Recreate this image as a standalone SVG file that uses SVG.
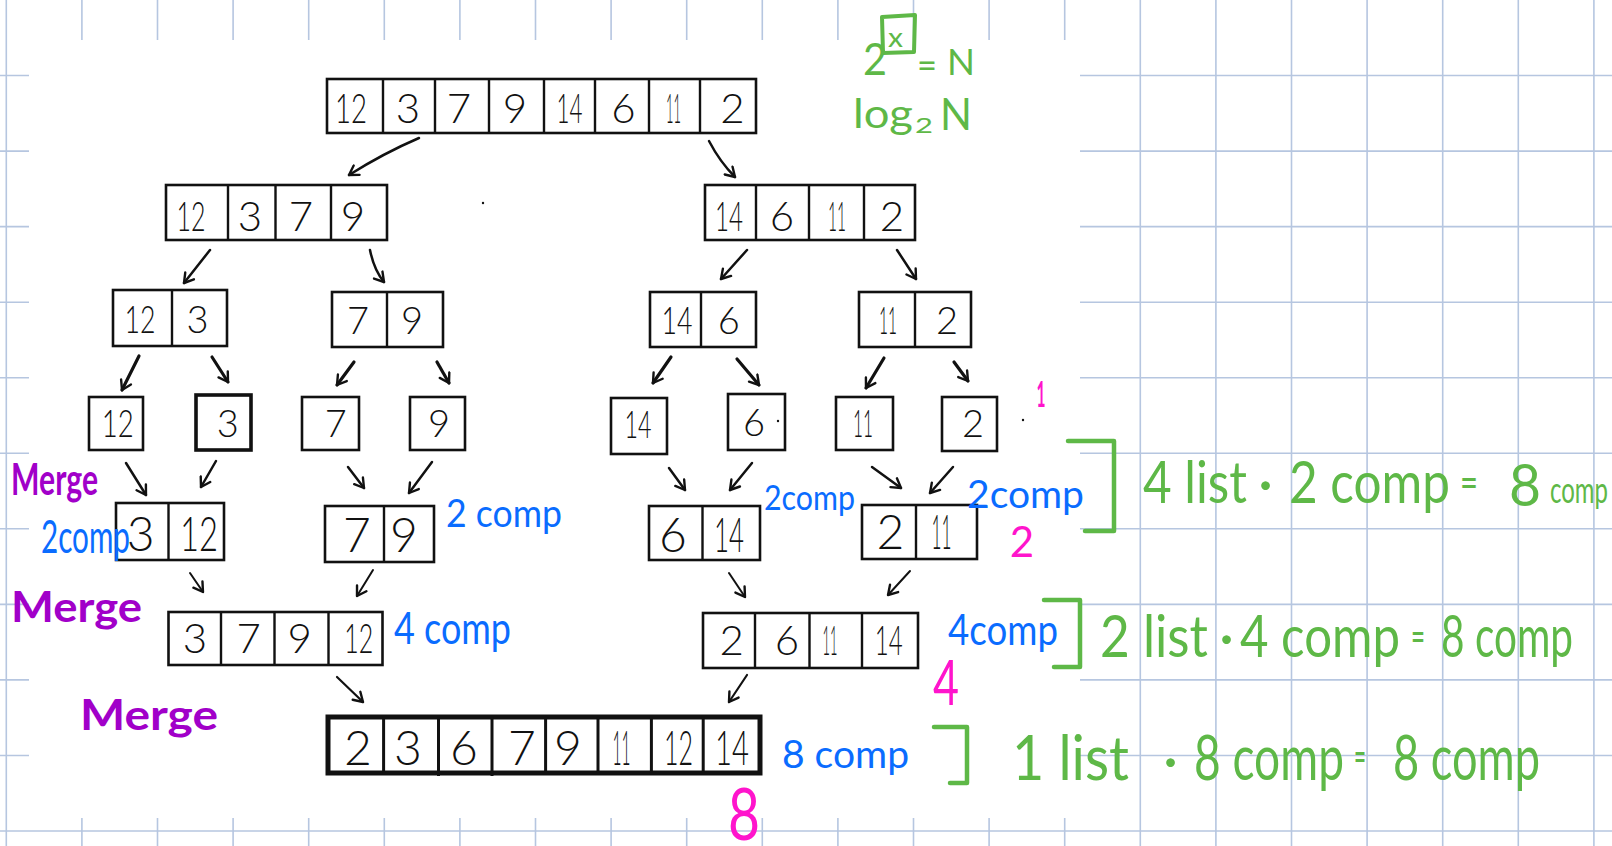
<svg xmlns="http://www.w3.org/2000/svg" width="1612" height="846" viewBox="0 0 1612 846">
  <defs>
    <marker id="ah" viewBox="0 0 14 14" refX="11" refY="7" markerWidth="14" markerHeight="14" markerUnits="userSpaceOnUse" orient="auto">
      <path d="M2,1.5 L11,7 L2,12.5" fill="none" stroke="#111" stroke-width="2.4" stroke-linecap="round" stroke-linejoin="round"/>
    </marker>
    <style>
      .grid { stroke: #b6c6e0; stroke-width: 1.6; fill: none; }
      .box { fill: none; stroke: #111; stroke-width: 2.6; }
      .div { stroke: #111; stroke-width: 2.4; }
      .d { font-family: Lato, "Liberation Sans", sans-serif; font-weight: 300; fill: #111; text-anchor: middle; }
      .d42 { font-size: 42px; }
      .d38 { font-size: 38px; }
      .d48 { font-size: 48px; }
      .arr { fill: none; stroke: #111; stroke-width: 2.5; stroke-linecap: round; marker-end: url(#ah); }
      .hw { font-family: Lato, "Liberation Sans", sans-serif; }
      .purple { fill: #a100c9; font-weight: 700; }
      .blue { fill: #0a6cff; }
      .green { fill: #5eb847; }
      .pink { fill: #ff14cc; text-anchor: middle; }
      .bracket { fill: none; stroke: #5eb847; stroke-width: 4.5; stroke-linecap: round; stroke-linejoin: round; }
    </style>
  </defs>

  <!-- paper background with grid -->
  <rect x="0" y="0" width="1612" height="846" fill="#ffffff"/>
  <path class="grid" d="M6.3,0V846 M81.9,0V846 M157.5,0V846 M233.1,0V846 M308.7,0V846 M384.3,0V846 M459.9,0V846 M535.5,0V846 M611.1,0V846 M686.7,0V846 M762.3,0V846 M837.9,0V846 M913.5,0V846 M989.1,0V846 M1064.7,0V846 M1140.3,0V846 M1215.9,0V846 M1291.5,0V846 M1367.1,0V846 M1442.7,0V846 M1518.3,0V846 M1593.9,0V846 M0,75.5H1612 M0,151.1H1612 M0,226.6H1612 M0,302.2H1612 M0,377.7H1612 M0,453.3H1612 M0,528.8H1612 M0,604.4H1612 M0,679.9H1612 M0,755.5H1612 M0,831H1612"/>
  <!-- white drawing sheet -->
  <rect x="29" y="40" width="1051" height="778" fill="#ffffff"/>

  <!-- level 1 -->
  <g id="list-root">
    <rect class="box" x="327" y="79" width="429" height="54"/>
    <path class="div" d="M383,79V133 M435,79V133 M489,79V133 M544,79V133 M595,79V133 M649,79V133 M700,79V133"/>
    <g class="d d42">
      <text x="351" y="123" textLength="32" lengthAdjust="spacingAndGlyphs">12</text>
      <text x="408" y="123">3</text>
      <text x="459" y="123">7</text>
      <text x="515" y="123">9</text>
      <text x="569.5" y="123" textLength="26" lengthAdjust="spacingAndGlyphs">14</text>
      <text x="623.5" y="123">6</text>
      <text x="673.5" y="123" textLength="15" lengthAdjust="spacingAndGlyphs">11</text>
      <text x="732.5" y="123">2</text>
    </g>
  </g>

  <!-- level 2 -->
  <g id="list-l2a">
    <rect class="box" x="166" y="185" width="221" height="55"/>
    <path class="div" d="M228,185V240 M275.5,185V240 M331,185V240"/>
    <g class="d d42">
      <text x="191" y="231" textLength="29" lengthAdjust="spacingAndGlyphs">12</text>
      <text x="250" y="231">3</text>
      <text x="301" y="231">7</text>
      <text x="353" y="231">9</text>
    </g>
  </g>
  <g id="list-l2b">
    <rect class="box" x="705" y="185" width="210" height="55"/>
    <path class="div" d="M756,185V240 M809,185V240 M864,185V240"/>
    <g class="d d42">
      <text x="729" y="231" textLength="28" lengthAdjust="spacingAndGlyphs">14</text>
      <text x="782" y="231">6</text>
      <text x="837" y="231" textLength="18" lengthAdjust="spacingAndGlyphs">11</text>
      <text x="892" y="231">2</text>
    </g>
  </g>

  <!-- level 3 -->
  <g id="list-l3a">
    <rect class="box" x="113" y="290" width="114" height="56"/>
    <path class="div" d="M172,290V346"/>
    <g class="d d38">
      <text x="140" y="333" textLength="31" lengthAdjust="spacingAndGlyphs">12</text>
      <text x="197.6" y="333">3</text>
    </g>
  </g>
  <g id="list-l3b">
    <rect class="box" x="332" y="292" width="111" height="55"/>
    <path class="div" d="M387,292V347"/>
    <g class="d d38">
      <text x="358" y="334">7</text>
      <text x="412" y="334">9</text>
    </g>
  </g>
  <g id="list-l3c">
    <rect class="box" x="650" y="292" width="106" height="55"/>
    <path class="div" d="M701,292V347"/>
    <g class="d d38">
      <text x="677" y="334" textLength="31" lengthAdjust="spacingAndGlyphs">14</text>
      <text x="728.7" y="334">6</text>
    </g>
  </g>
  <g id="list-l3d">
    <rect class="box" x="859" y="292" width="112" height="55"/>
    <path class="div" d="M915,292V347"/>
    <g class="d d38">
      <text x="888" y="334" textLength="18" lengthAdjust="spacingAndGlyphs">11</text>
      <text x="947" y="334">2</text>
    </g>
  </g>

  <!-- level 4: single elements -->
  <g id="one-12"><rect class="box" x="89" y="397" width="54" height="53"/><text class="d d38" x="117.7" y="437" textLength="32" lengthAdjust="spacingAndGlyphs">12</text></g>
  <g id="one-3"><rect class="box" x="196" y="395" width="55" height="55" style="stroke-width:3.6"/><text class="d d38" x="227.7" y="437">3</text></g>
  <g id="one-7"><rect class="box" x="302" y="397" width="57" height="53"/><text class="d d38" x="335.7" y="437">7</text></g>
  <g id="one-9"><rect class="box" x="410" y="397" width="55" height="53"/><text class="d d38" x="439" y="437">9</text></g>
  <g id="one-14"><rect class="box" x="611" y="398" width="56" height="56"/><text class="d d38" x="638" y="438" textLength="27" lengthAdjust="spacingAndGlyphs">14</text></g>
  <g id="one-6"><rect class="box" x="728" y="394" width="57" height="56"/><text class="d d38" x="754" y="436">6</text></g>
  <g id="one-11"><rect class="box" x="836" y="397" width="57" height="53"/><text class="d d38" x="863" y="437" textLength="20" lengthAdjust="spacingAndGlyphs">11</text></g>
  <g id="one-2"><rect class="box" x="942" y="397" width="55" height="54"/><text class="d d38" x="973" y="437">2</text></g>

  <!-- level 5: merged pairs -->
  <g id="pair-3-12">
    <rect class="box" x="116" y="503" width="108" height="57"/>
    <path class="div" d="M168.5,503V560"/>
    <g class="d d48">
      <text x="140.7" y="551">3</text>
      <text x="199" y="551" textLength="38" lengthAdjust="spacingAndGlyphs">12</text>
    </g>
  </g>
  <g id="pair-7-9">
    <rect class="box" x="325" y="506" width="109" height="56"/>
    <path class="div" d="M384,506V562"/>
    <g class="d d48">
      <text x="356.8" y="552">7</text>
      <text x="403.8" y="552">9</text>
    </g>
  </g>
  <g id="pair-6-14">
    <rect class="box" x="649" y="506" width="111" height="54"/>
    <path class="div" d="M702.5,506V560"/>
    <g class="d d48">
      <text x="672.8" y="552">6</text>
      <text x="729" y="552" textLength="30" lengthAdjust="spacingAndGlyphs">14</text>
    </g>
  </g>
  <g id="pair-2-11">
    <rect class="box" x="862" y="505" width="115" height="54"/>
    <path class="div" d="M916,505V559"/>
    <g class="d d48">
      <text x="890.5" y="549">2</text>
      <text x="941.6" y="549" textLength="20" lengthAdjust="spacingAndGlyphs">11</text>
    </g>
  </g>

  <!-- level 6: merged quads -->
  <g id="quad-left">
    <rect class="box" x="168.5" y="612" width="214" height="53"/>
    <path class="div" d="M221,612V665 M274.5,612V665 M328.5,612V665"/>
    <g class="d d42">
      <text x="195" y="653">3</text>
      <text x="248.7" y="653">7</text>
      <text x="299.6" y="653">9</text>
      <text x="358.8" y="653" textLength="29" lengthAdjust="spacingAndGlyphs">12</text>
    </g>
  </g>
  <g id="quad-right">
    <rect class="box" x="703" y="613" width="215" height="55"/>
    <path class="div" d="M755,613V668 M809.5,613V668 M862,613V668"/>
    <g class="d d42">
      <text x="731.8" y="655">2</text>
      <text x="787" y="655">6</text>
      <text x="830" y="655" textLength="15" lengthAdjust="spacingAndGlyphs">11</text>
      <text x="888.8" y="655" textLength="28" lengthAdjust="spacingAndGlyphs">14</text>
    </g>
  </g>

  <!-- level 7: fully sorted -->
  <g id="list-sorted">
    <rect class="box" x="328" y="717" width="432" height="56" style="stroke-width:5"/>
    <path class="div" d="M383.6,717V773 M438.5,717V776 M492,717V776 M545.6,717V773 M598,717V773 M651.4,717V773 M703.2,717V773" style="stroke-width:3"/>
    <g class="d d48">
      <text x="358" y="765">2</text>
      <text x="408" y="765">3</text>
      <text x="464" y="765">6</text>
      <text x="522" y="765">7</text>
      <text x="568" y="765">9</text>
      <text x="621.5" y="765" textLength="18" lengthAdjust="spacingAndGlyphs">11</text>
      <text x="678.5" y="765" textLength="29" lengthAdjust="spacingAndGlyphs">12</text>
      <text x="732" y="765" textLength="34" lengthAdjust="spacingAndGlyphs">14</text>
    </g>
  </g>

  <!-- split / merge arrows -->
  <g id="connectors">
    <path class="arr" d="M419,138 Q384,153 349,175"/>
    <path class="arr" d="M709,141 Q720,162 735,177"/>
    <path class="arr" d="M210,250 L184,283"/>
    <path class="arr" d="M370,250 Q374,270 384,282"/>
    <path class="arr" d="M747,250 L721,279"/>
    <path class="arr" d="M897,250 L916,279"/>
    <path class="arr" d="M139,356 L122,390" style="stroke-width:3.2"/>
    <path class="arr" d="M212,357 L228,382" style="stroke-width:3.2"/>
    <path class="arr" d="M354,362 L337,385" style="stroke-width:3.2"/>
    <path class="arr" d="M437,362 L449,383" style="stroke-width:3.2"/>
    <path class="arr" d="M671,357 L653,383" style="stroke-width:3.2"/>
    <path class="arr" d="M737,359 L759,385" style="stroke-width:3.2"/>
    <path class="arr" d="M884,358 L866,388" style="stroke-width:3.2"/>
    <path class="arr" d="M954,362 L968,381" style="stroke-width:3.2"/>
    <path class="arr" d="M126,463 L146,495"/>
    <path class="arr" d="M216,461 L201,487"/>
    <path class="arr" d="M348,467 L364,488"/>
    <path class="arr" d="M432,462 L409,493"/>
    <path class="arr" d="M669,468 L685,490"/>
    <path class="arr" d="M752,463 L730,490"/>
    <path class="arr" d="M872,467 L901,488"/>
    <path class="arr" d="M953,467 L930,493"/>
    <path class="arr" d="M190,573 L203,592" style="stroke-width:2"/>
    <path class="arr" d="M373,570 L357,596" style="stroke-width:2"/>
    <path class="arr" d="M729,573 L745,597" style="stroke-width:2"/>
    <path class="arr" d="M910,571 L888,595" style="stroke-width:2"/>
    <path class="arr" d="M337,677 L363,702" style="stroke-width:2.2"/>
    <path class="arr" d="M747,675 L729,702" style="stroke-width:2.2"/>
  </g>

  <!-- stray pen dots -->
  <g fill="#111">
    <circle cx="483" cy="203" r="1.2"/>
    <circle cx="778" cy="421" r="1.2"/>
    <circle cx="1023" cy="420" r="1.2"/>
  </g>

  <!-- merge labels -->
  <g id="merge-labels" class="hw purple">
    <text x="11" y="495" font-size="44" textLength="87" lengthAdjust="spacingAndGlyphs">Merge</text>
    <text x="11" y="622" font-size="42" textLength="131" lengthAdjust="spacingAndGlyphs">Merge</text>
    <text x="80" y="730" font-size="42" textLength="138" lengthAdjust="spacingAndGlyphs">Merge</text>
  </g>

  <!-- comparison counts -->
  <g id="comp-labels" class="hw blue">
    <text x="41" y="553" font-size="46" textLength="89" lengthAdjust="spacingAndGlyphs">2comp</text>
    <text x="446" y="527" font-size="38" textLength="116" lengthAdjust="spacingAndGlyphs">2 comp</text>
    <text x="394" y="644" font-size="44" textLength="117" lengthAdjust="spacingAndGlyphs">4 comp</text>
    <text x="764" y="510" font-size="34" textLength="91" lengthAdjust="spacingAndGlyphs">2comp</text>
    <text x="967" y="508" font-size="38" textLength="117" lengthAdjust="spacingAndGlyphs">2comp</text>
    <text x="948" y="645" font-size="42" textLength="110" lengthAdjust="spacingAndGlyphs">4comp</text>
    <text x="782" y="768" font-size="38" textLength="127" lengthAdjust="spacingAndGlyphs">8 comp</text>
  </g>

  <!-- level numbers -->
  <g id="level-numbers" class="hw pink">
    <text x="1041" y="407" font-size="36" font-weight="700" textLength="9" lengthAdjust="spacingAndGlyphs">1</text>
    <text x="1022" y="557" font-size="42">2</text>
    <text x="946" y="705" font-size="62" textLength="26" lengthAdjust="spacingAndGlyphs">4</text>
    <text x="744" y="840" font-size="72" textLength="32" lengthAdjust="spacingAndGlyphs">8</text>
  </g>

  <!-- totals per level -->
  <g id="totals">
    <path class="bracket" d="M1068,441 H1114 V531 H1085"/>
    <path class="bracket" d="M1044,600 H1080 V667 H1054"/>
    <path class="bracket" d="M934,727 H967 V783 H950"/>
    <g class="hw green" font-size="58">
      <text x="1143" y="503" textLength="104" lengthAdjust="spacingAndGlyphs">4 list</text>
      <text x="1258" y="503">·</text>
      <text x="1289" y="503" textLength="161" lengthAdjust="spacingAndGlyphs">2 comp</text>
      <text x="1460" y="498" font-size="44" textLength="18" lengthAdjust="spacingAndGlyphs">=</text>
      <text x="1509" y="506" textLength="32" lengthAdjust="spacingAndGlyphs">8</text>
      <text x="1550" y="503" font-size="36" textLength="58" lengthAdjust="spacingAndGlyphs">comp</text>

      <text x="1100" y="657" textLength="108" lengthAdjust="spacingAndGlyphs">2 list</text>
      <text x="1219" y="657">·</text>
      <text x="1240" y="657" textLength="160" lengthAdjust="spacingAndGlyphs">4 comp</text>
      <text x="1411" y="652" font-size="44" textLength="14" lengthAdjust="spacingAndGlyphs">=</text>
      <text x="1441" y="657" textLength="132" lengthAdjust="spacingAndGlyphs">8 comp</text>

      <text x="1012" y="780" font-size="62" textLength="117" lengthAdjust="spacingAndGlyphs">1 list</text>
      <text x="1163" y="780">·</text>
      <text x="1194" y="780" font-size="62" textLength="150" lengthAdjust="spacingAndGlyphs">8 comp</text>
      <text x="1354" y="772" font-size="44" textLength="12" lengthAdjust="spacingAndGlyphs">=</text>
      <text x="1393" y="780" font-size="62" textLength="147" lengthAdjust="spacingAndGlyphs">8 comp</text>
    </g>
  </g>

  <!-- depth formula -->
  <g id="formula" class="hw green">
    <text x="863" y="75" font-size="44" textLength="24" lengthAdjust="spacingAndGlyphs">2</text>
    <path d="M882,17 L915,15 L914,52 L883,53 Z" fill="none" stroke="#5eb847" stroke-width="4" stroke-linejoin="round"/>
    <text x="888" y="47" font-size="26" textLength="15" lengthAdjust="spacingAndGlyphs">x</text>
    <text x="917" y="78" font-size="36" textLength="20" lengthAdjust="spacingAndGlyphs">=</text>
    <text x="947" y="75" font-size="36" textLength="28" lengthAdjust="spacingAndGlyphs">N</text>
    <text x="853" y="128" font-size="40" textLength="60" lengthAdjust="spacingAndGlyphs">log</text>
    <text x="915" y="133" font-size="22" textLength="18" lengthAdjust="spacingAndGlyphs">2</text>
    <text x="940" y="130" font-size="44" textLength="32" lengthAdjust="spacingAndGlyphs">N</text>
  </g>
</svg>
